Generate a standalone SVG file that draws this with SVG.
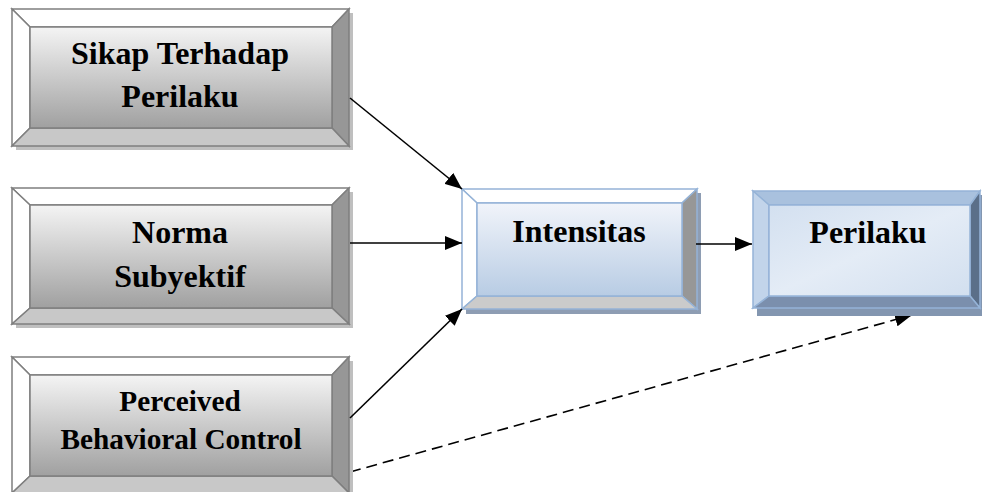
<svg xmlns="http://www.w3.org/2000/svg" width="982" height="492" viewBox="0 0 982 492">
<defs>
<linearGradient id="gGrey" x1="0" y1="0" x2="0" y2="1">
<stop offset="0" stop-color="#f4f4f4"/>
<stop offset="1" stop-color="#a0a0a0"/>
</linearGradient>
<linearGradient id="gInt" x1="0" y1="0" x2="0" y2="1">
<stop offset="0" stop-color="#f1f4fa"/>
<stop offset="1" stop-color="#b8cce4"/>
</linearGradient>
<linearGradient id="gPer" x1="0" y1="0" x2="1" y2="1">
<stop offset="0" stop-color="#d3e0f0"/>
<stop offset="0.5" stop-color="#e4ecf6"/>
<stop offset="1" stop-color="#d2dfef"/>
</linearGradient>
<marker id="ah" markerUnits="userSpaceOnUse" markerWidth="17" markerHeight="14" refX="17" refY="7" orient="auto">
<path d="M0,0 L17,7 L0,14 Z" fill="#000"/>
</marker>
</defs>
<style>
.txt{font-family:"Liberation Serif","Times New Roman",serif;font-weight:bold;fill:#000;text-anchor:middle}
.gb{stroke:#7f7f7f;stroke-width:1.5;stroke-linejoin:miter}
.bb{stroke:#95b3d7;stroke-width:1.5;stroke-linejoin:miter}
.con{fill:none;stroke:#000;stroke-width:1.6}
</style>

<g id="connectors">
<line class="con" x1="350" y1="472" x2="912" y2="315" stroke-dasharray="11,6" marker-end="url(#ah)"/>
</g>

<g id="node-sikap">
<rect x="16" y="13" width="337" height="137" fill="#bfbfbf"/>
<polygon class="gb" points="12,9 349,9 332,27 30,27" fill="#ffffff"/>
<polygon class="gb" points="12,9 30,27 30,128 12,146" fill="#ffffff"/>
<polygon class="gb" points="349,9 349,146 332,128 332,27" fill="#979797"/>
<polygon class="gb" points="12,146 30,128 332,128 349,146" fill="#c8c8c8"/>
<rect class="gb" x="30" y="27" width="302" height="101" fill="url(#gGrey)"/>
<text class="txt" x="180" y="64" font-size="32">Sikap Terhadap</text>
<text class="txt" x="180" y="107" font-size="32">Perilaku</text>
</g>

<g id="node-norma">
<rect x="16" y="192" width="337" height="136" fill="#bfbfbf"/>
<polygon class="gb" points="12,188 349,188 332,205 30,205" fill="#ffffff"/>
<polygon class="gb" points="12,188 30,205 30,308 12,324" fill="#ffffff"/>
<polygon class="gb" points="349,188 349,324 332,308 332,205" fill="#979797"/>
<polygon class="gb" points="12,324 30,308 332,308 349,324" fill="#c8c8c8"/>
<rect class="gb" x="30" y="205" width="302" height="103" fill="url(#gGrey)"/>
<text class="txt" x="180" y="243" font-size="32">Norma</text>
<text class="txt" x="180" y="287" font-size="32">Subyektif</text>
</g>

<g id="node-pbc">
<rect x="16" y="361" width="337" height="136" fill="#bfbfbf"/>
<polygon class="gb" points="12,357 349,357 332,375 30,375" fill="#ffffff"/>
<polygon class="gb" points="12,357 30,375 30,476 12,493" fill="#ffffff"/>
<polygon class="gb" points="349,357 349,493 332,476 332,375" fill="#979797"/>
<polygon class="gb" points="12,493 30,476 332,476 349,493" fill="#c8c8c8"/>
<rect class="gb" x="30" y="375" width="302" height="101" fill="url(#gGrey)"/>
<text class="txt" x="180" y="411" font-size="29.3">Perceived</text>
<text class="txt" x="181" y="449" font-size="29.3">Behavioral Control</text>
</g>

<g id="node-intensitas">
<rect x="466" y="193" width="235" height="121" fill="#8e9db3"/>
<polygon class="bb" points="462,189 697,189 682,203 477,203" fill="#ffffff"/>
<polygon class="bb" points="462,189 477,203 477,296 462,309" fill="#ffffff"/>
<polygon class="bb" points="697,189 697,309 682,296 682,203" fill="#979797"/>
<polygon class="bb" points="462,309 477,296 682,296 697,309" fill="#cbcbcb"/>
<rect class="bb" x="477" y="203" width="205" height="93" fill="url(#gInt)"/>
<text class="txt" x="579" y="242" font-size="32">Intensitas</text>
</g>

<g id="node-perilaku">
<rect x="757" y="195" width="225" height="121" fill="#8396b0"/>
<polygon class="bb" points="753,191 980,191 970,205 769,205" fill="#a9c1de"/>
<polygon class="bb" points="753,191 769,205 769,296 753,308" fill="#c2d4ea"/>
<polygon class="bb" points="980,191 980,308 970,296 970,205" fill="#5b6f89"/>
<polygon class="bb" points="753,308 769,296 970,296 980,308" fill="#7b8fad"/>
<rect class="bb" x="769" y="205" width="201" height="91" fill="url(#gPer)"/>
<text class="txt" x="868" y="243" font-size="32">Perilaku</text>
</g>

<g id="connectors-solid">
<line class="con" x1="350" y1="98" x2="462" y2="189" marker-end="url(#ah)"/>
<line class="con" x1="350" y1="243" x2="462" y2="243" marker-end="url(#ah)"/>
<line class="con" x1="350" y1="418" x2="462" y2="309" marker-end="url(#ah)"/>
<line class="con" x1="696" y1="244" x2="752" y2="244" marker-end="url(#ah)"/>
</g>
</svg>
